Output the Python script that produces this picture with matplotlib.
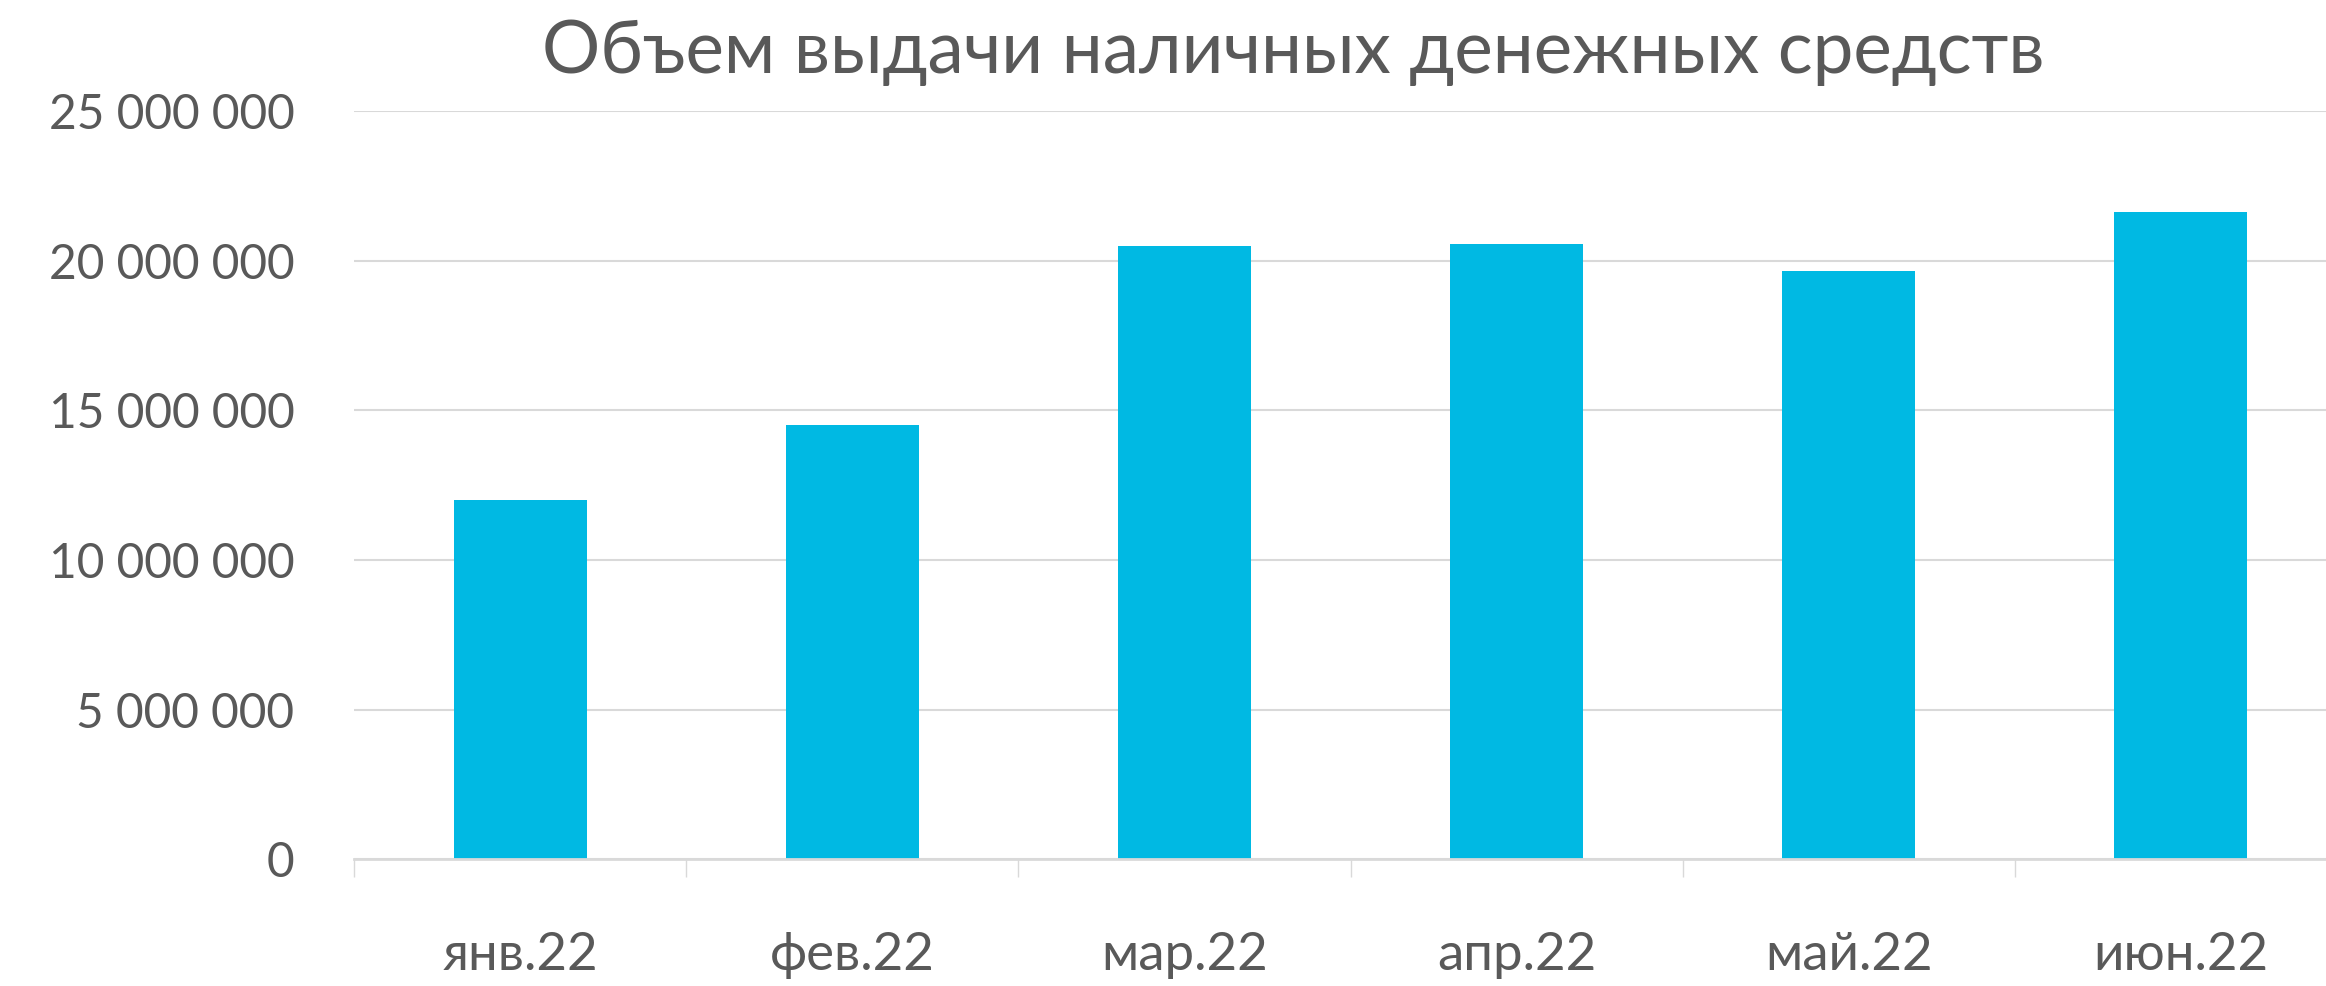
import matplotlib
matplotlib.use("Agg")
import matplotlib.pyplot as plt
from matplotlib.ticker import FuncFormatter, MultipleLocator
import numpy as np

categories = ["янв.22", "фев.22", "мар.22", "апр.22", "май.22", "июн.22"]
values = [12000000, 14500000, 20480000, 20560000, 19670000, 21620000]
title = "Объем выдачи наличных денежных средств"

plt.rcParams['font.family'] = ['Lato', 'DejaVu Sans']
TEXT = "#595959"
GRID = "#D9D9D9"
BAR = "#00B9E3"

fig = plt.figure(figsize=(23.26, 9.86), dpi=100)
ax = fig.add_axes([354/2326, 1-859.3/986, (2347-354)/2326, (859.3-111)/986])

x = np.arange(len(categories))
ax.bar(x, values, width=0.4, color=BAR, zorder=3)

ax.set_xlim(-0.5, len(categories)-0.5)
ax.set_ylim(0, 25000000)
ax.yaxis.set_major_locator(MultipleLocator(5000000))
ax.yaxis.set_major_formatter(FuncFormatter(lambda v, p: f"{v:,.0f}".replace(",", " ")))
ax.grid(axis="y", color=GRID, linewidth=1.5, zorder=0)
ax.set_axisbelow(True)

for s in ["top", "right", "left"]:
    ax.spines[s].set_visible(False)
ax.spines["bottom"].set_color(GRID)
ax.spines["bottom"].set_linewidth(2)
ax.spines["bottom"].set_zorder(4)

ax.set_xticks(x)
ax.set_xticklabels(categories)
ax.set_xticks(np.arange(-0.5, len(categories)), minor=True)
ax.tick_params(axis="x", which="major", length=0, pad=52, labelsize=38, labelcolor=TEXT)
ax.tick_params(axis="x", which="minor", length=13, width=1, color=GRID)
ax.tick_params(axis="y", length=0, pad=43, labelsize=34.5, labelcolor=TEXT)

fig.text(0.556, 1-52/986, title, ha="center", va="center", fontsize=52.5, color=TEXT)

fig.savefig("out.png", dpi=100, facecolor="white")
